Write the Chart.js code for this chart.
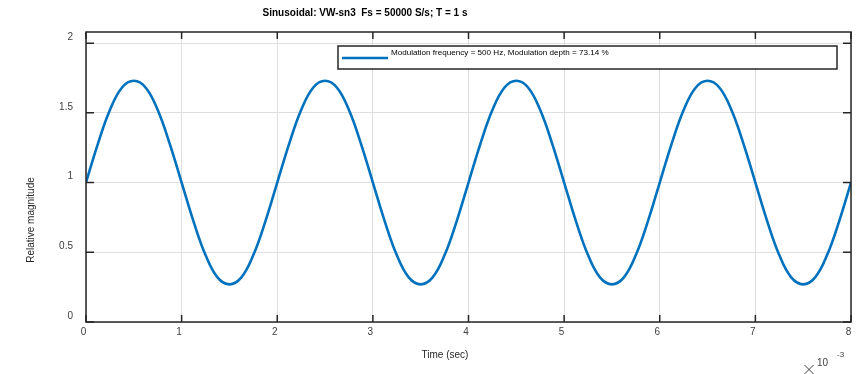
<!DOCTYPE html>
<html>
<head>
<meta charset="utf-8">
<script src="https://cdn.jsdelivr.net/npm/chart.js@4.4.1/dist/chart.umd.min.js"></script>
<style>
  html, body { margin: 0; padding: 0; background: #fff; }
  #wrap { width: 859px; height: 374px; position: relative; }
</style>
</head>
<body>
<div id="wrap"><canvas id="sineChart"></canvas></div>
<script>
// ====== DADOS ======
const timeMs = [
  0, 0.125, 0.25, 0.375, 0.5, 0.625, 0.75, 0.875,
  1, 1.125, 1.25, 1.375, 1.5, 1.625, 1.75, 1.875,
  2, 2.125, 2.25, 2.375, 2.5, 2.625, 2.75, 2.875,
  3, 3.125, 3.25, 3.375, 3.5, 3.625, 3.75, 3.875,
  4, 4.125, 4.25, 4.375, 4.5, 4.625, 4.75, 4.875,
  5, 5.125, 5.25, 5.375, 5.5, 5.625, 5.75, 5.875,
  6, 6.125, 6.25, 6.375, 6.5, 6.625, 6.75, 6.875,
  7, 7.125, 7.25, 7.375, 7.5, 7.625, 7.75, 7.875,
  8
];
const magnitude = [
  1.00, 1.28, 1.52, 1.68, 1.73, 1.68, 1.52, 1.28,
  1.00, 0.72, 0.48, 0.32, 0.27, 0.32, 0.48, 0.72,
  1.00, 1.28, 1.52, 1.68, 1.73, 1.68, 1.52, 1.28,
  1.00, 0.72, 0.48, 0.32, 0.27, 0.32, 0.48, 0.72,
  1.00, 1.28, 1.52, 1.68, 1.73, 1.68, 1.52, 1.28,
  1.00, 0.72, 0.48, 0.32, 0.27, 0.32, 0.48, 0.72,
  1.00, 1.28, 1.52, 1.68, 1.73, 1.68, 1.52, 1.28,
  1.00, 0.72, 0.48, 0.32, 0.27, 0.32, 0.48, 0.72,
  1.00
];
const xTicks = [0, 1, 2, 3, 4, 5, 6, 7, 8];
const yTicks = [0, 0.5, 1, 1.5, 2];
const yTickLabels = ['0', '0.5', '1', '1.5', '2'];

const chartTitle = 'Sinusoidal: VW-sn3  Fs = 50000 S/s; T = 1 s';
const legendLabel = 'Modulation frequency = 500 Hz, Modulation depth = 73.14 %';

const FONT = 'Liberation Sans, Arial, Helvetica, sans-serif';
const AXIS_COLOR = '#262626';
const TEXT_COLOR = '#404040';
const LINE_COLOR = '#0072BD';

// ====== DESENHO ESTILO MATLAB ======
const matlabFrame = {
  id: 'matlabFrame',
  afterDraw(chart) {
    const ctx = chart.ctx;
    const a = chart.chartArea;
    const xs = chart.scales.x;
    const ys = chart.scales.y;
    ctx.save();

    // caixa do eixo
    ctx.strokeStyle = AXIS_COLOR;
    ctx.lineWidth = 1.5;
    ctx.strokeRect(a.left, a.top, a.right - a.left, a.bottom - a.top);

    // marcas internas
    ctx.beginPath();
    xTicks.forEach(v => {
      const px = xs.getPixelForValue(v);
      ctx.moveTo(px, a.bottom); ctx.lineTo(px, a.bottom - 7);
      ctx.moveTo(px, a.top); ctx.lineTo(px, a.top + 7);
    });
    yTicks.forEach(v => {
      const py = ys.getPixelForValue(v);
      ctx.moveTo(a.left, py); ctx.lineTo(a.left + 8, py);
      ctx.moveTo(a.right, py); ctx.lineTo(a.right - 8, py);
    });
    ctx.stroke();

    // rótulos dos ticks
    ctx.fillStyle = TEXT_COLOR;
    ctx.font = '10px ' + FONT;
    ctx.textAlign = 'center';
    ctx.textBaseline = 'middle';
    xTicks.forEach(v => {
      ctx.fillText(String(v), xs.getPixelForValue(v) - 2.5, a.bottom + 10);
    });
    ctx.textAlign = 'right';
    yTicks.forEach((v, i) => {
      ctx.fillText(yTickLabels[i], a.left - 13, ys.getPixelForValue(v) - 6);
    });

    // títulos dos eixos
    ctx.textAlign = 'center';
    ctx.fillStyle = '#262626';
    ctx.fillText('Time (sec)', 445, 355);
    ctx.save();
    ctx.translate(31, 220);
    ctx.rotate(-Math.PI / 2);
    ctx.fillText('Relative magnitude', 0, 0);
    ctx.restore();

    // multiplicador x10^-3
    ctx.strokeStyle = TEXT_COLOR;
    ctx.lineWidth = 1;
    ctx.beginPath();
    ctx.moveTo(804.5, 365); ctx.lineTo(813.5, 374);
    ctx.moveTo(813.5, 365); ctx.lineTo(804.5, 374);
    ctx.stroke();
    ctx.fillStyle = TEXT_COLOR;
    ctx.font = '10px ' + FONT;
    ctx.textAlign = 'left';
    ctx.fillText('10', 817, 363);
    ctx.font = '8px ' + FONT;
    ctx.fillText('-3', 837, 355);

    // título
    ctx.textAlign = 'center';
    ctx.fillStyle = '#000';
    ctx.font = 'bold 10px ' + FONT;
    ctx.fillText(chartTitle, 365, 13);

    // legenda
    ctx.fillStyle = '#fff';
    ctx.fillRect(338, 46, 499, 23);
    ctx.strokeStyle = AXIS_COLOR;
    ctx.lineWidth = 1.5;
    ctx.strokeRect(338, 46, 499, 23);
    ctx.strokeStyle = LINE_COLOR;
    ctx.lineWidth = 2.5;
    ctx.beginPath();
    ctx.moveTo(342, 58); ctx.lineTo(388, 58);
    ctx.stroke();
    ctx.fillStyle = '#000';
    ctx.font = '8.1px ' + FONT;
    ctx.textAlign = 'left';
    ctx.fillText(legendLabel, 391, 53);

    ctx.restore();
  }
};

// ====== GRÁFICO ======
const ctxSine = document.getElementById('sineChart');

new Chart(ctxSine, {
  type: 'line',
  data: {
    datasets: [{
      label: legendLabel,
      data: timeMs.map((t, i) => ({ x: t, y: magnitude[i] })),
      borderColor: LINE_COLOR,
      borderWidth: 2.6,
      pointRadius: 0,
      fill: false,
      tension: 0.4
    }]
  },
  options: {
    responsive: true,
    maintainAspectRatio: false,
    animation: false,
    layout: {
      padding: { left: 86, right: 8, top: 32, bottom: 52 }
    },
    plugins: {
      legend: { display: false },
      tooltip: { enabled: false }
    },
    scales: {
      x: {
        type: 'linear',
        min: 0,
        max: 8,
        afterBuildTicks: s => { s.ticks = xTicks.map(v => ({ value: v })); },
        ticks: { display: false },
        grid: { color: '#dfdfdf', lineWidth: 1, drawTicks: false },
        border: { display: false }
      },
      y: {
        type: 'linear',
        min: 0,
        max: 2.08,
        afterBuildTicks: s => { s.ticks = yTicks.map(v => ({ value: v })); },
        ticks: { display: false },
        grid: { color: '#dfdfdf', lineWidth: 1, drawTicks: false },
        border: { display: false }
      }
    }
  },
  plugins: [matlabFrame]
});
</script>
</body>
</html>
